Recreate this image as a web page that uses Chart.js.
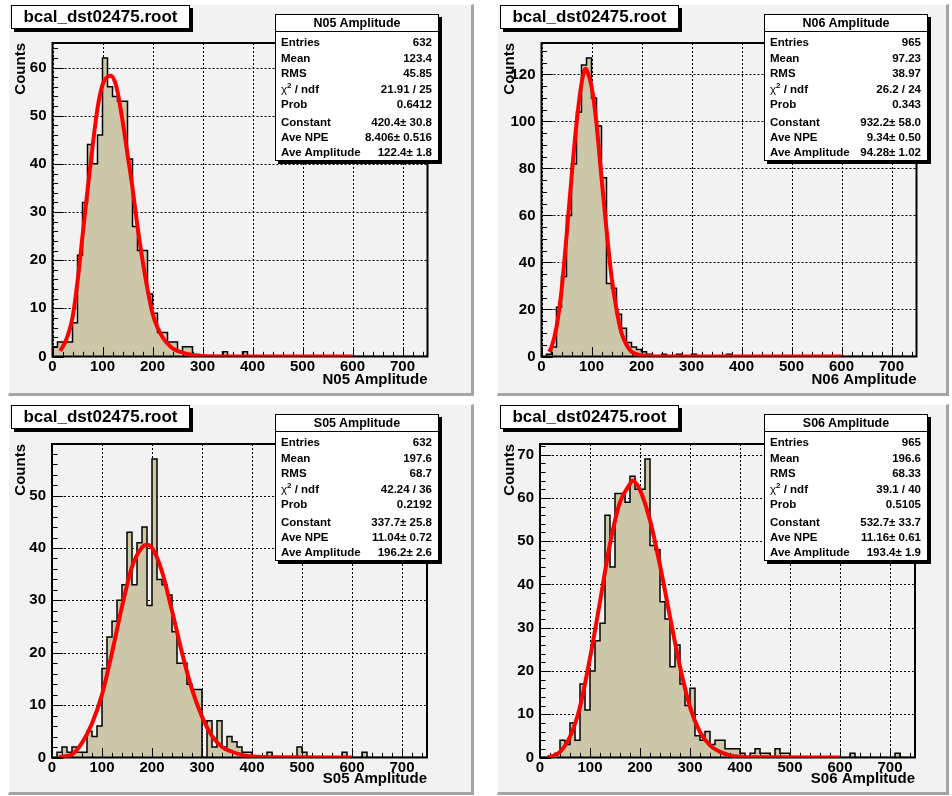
<!DOCTYPE html>
<html><head><meta charset="utf-8">
<script src="https://cdn.jsdelivr.net/npm/chart.js@4.4.1/dist/chart.umd.min.js"></script>
<style>
html,body{margin:0;padding:0;}
body{width:952px;height:796px;position:relative;overflow:hidden;background:#ffffff;font-family:"Liberation Sans",Arial,Helvetica,sans-serif;}
.pad{position:absolute;background:#f2f2f2;box-sizing:border-box;border-right:3px solid #a4a4a4;border-bottom:3px solid #a4a4a4;border-left:1px solid #ffffff;border-top:1px solid #ffffff;}
.cv{position:absolute;}
.tbox{position:absolute;background:#fff;border:1px solid #000;box-shadow:3px 3px 0 #000;box-sizing:border-box;font-weight:bold;font-size:17px;line-height:22px;text-align:center;color:#000;white-space:nowrap;}
.stats{position:absolute;background:#fff;border:1px solid #000;box-shadow:3px 3px 0 #000;box-sizing:border-box;font-weight:bold;color:#000;white-space:nowrap;}
.stats .hdr{position:absolute;left:0;right:0;top:0;height:16px;line-height:16px;text-align:center;font-size:12.5px;border-bottom:1px solid #000;}
.stats .row{position:absolute;left:5px;right:6px;font-size:11.5px;height:14px;line-height:14px;}
.stats .row .v{position:absolute;right:0;top:0;}
.stats sup{font-size:8px;vertical-align:5px;line-height:0;}
.stats .chi{font-weight:normal;}
</style></head><body>
<script>
// ---------------- data ----------------
const FILE_NAME = "bcal_dst02475.root";
const HIST_NAMES = ["N05 Amplitude", "N06 Amplitude", "S05 Amplitude", "S06 Amplitude"];
const BIN_EDGES = [0,10,20,30,40,50,60,70,80,90,100,110,120,130,140,150,160,170,180,190,200,210,220,230,240,250,260,270,280,290,300,310,320,330,340,350,360,370,380,390,400,410,420,430,440,450,460,470,480,490,500,510,520,530,540,550,560,570,580,590,600,610,620,630,640,650,660,670,680,690,700,710,720,730,740,750];
const X_TICKS = [0,100,200,300,400,500,600,700];

const N05_COUNTS = [2,3,3,3,7,21,32,44,40,46, 62,56,54,53,53,41,27,22,22,13, 9,5,5,3,3,1,2,2,0,0, 0,0,0,0,1,0,0,0,1,0, 0,0,0,0,0,0,0,0,0,0, 0,0,0,0,0,0,0,0,0,0, 0,0,0,0,0,0,0,0,0,0, 0,0,0,0,0];
const N06_COUNTS = [0,1,4,21,34,60,82,104,124,127, 110,98,76,31,29,18,12,6,4,3, 2,1,0,0,1,0,0,1,0,0, 1,0,0,0,0,0,0,1,0,0, 0,0,0,0,0,0,0,0,0,0, 0,0,0,0,0,0,0,0,0,0, 0,0,0,0,0,0,0,0,0,0, 0,0,0,0,0];
const S05_COUNTS = [0,1,2,1,2,1,1,5,4,6, 17,23,26,30,33,43,33,41,44,29, 57,34,33,31,24,18,18,14,13,13, 0,7,2,7,2,4,3,2,1,1, 0,0,0,1,0,0,0,0,0,2, 1,0,0,0,0,0,0,0,1,0, 0,0,1,0,0,0,0,0,0,0, 0,0,0,0,0];
const S06_COUNTS = [0,0,0,1,4,3,8,4,17,11, 20,27,31,56,44,61,61,59,65,62, 62,69,49,48,36,32,21,26,17,12, 16,5,4,6,3,4,4,2,2,2, 1,0,1,2,1,1,0,2,1,1, 0,0,0,0,0,0,0,0,0,0, 0,0,1,0,0,0,0,0,0,0, 0,1,0,0,0];

const N05_FIT_X = [15,20,30,40,50,60,70,80,90,100,110,117,125,130,140,150,160,170,180,190,200,210,220,230,240,260,280,300,350,400,600];
const N05_FIT_Y = [1.2,1.9,4.2,8.0,15.5,25,34.5,43.5,51.5,56.4,58.1,58.3,57,55,49,42,35,27,20,14,9,6,4,2.7,1.7,0.8,0.3,0.1,0.01,0,0];
const N06_FIT_X = [15,20,30,40,50,60,70,80,88,90,100,110,120,130,140,150,160,170,180,200,220,250,600];
const N06_FIT_Y = [2,4,12.5,28,51,76,99,116,122.4,122,115,99,76,54,34,20,10,5,2,0.5,0.1,0,0];
const S05_FIT_X = [15,40,60,80,100,120,140,160,180,190,200,220,240,260,280,300,320,340,360,380,400,450,600];
const S05_FIT_Y = [0.1,0.6,2.8,6.5,12,20,28.8,36.4,40.1,40.6,40,35.5,28,20,13,7.8,4.1,2,1.1,0.5,0.2,0.03,0];
const S06_FIT_X = [15,20,40,60,80,100,120,140,160,180,185,200,220,240,260,280,300,320,340,360,380,400,450,600];
const S06_FIT_Y = [0.1,0.15,1.3,4.8,11.7,23,36,49.4,59,63.2,64,61.8,54.8,44.4,32.5,21,11.7,5.9,2.8,1.3,0.5,0.2,0.05,0];

const Y_MAX = [65.1, 133.35, 59.85, 72.45];
const N05_Y_TICKS = [0,10,20,30,40,50,60];
const N06_Y_TICKS = [0,20,40,60,80,100,120];
const S05_Y_TICKS = [0,10,20,30,40,50];
const S06_Y_TICKS = [0,10,20,30,40,50,60,70];
const Y_MINOR = [2, 5, 2, 2];

const STAT_LABELS = ["Entries","Mean","RMS","chi2 / ndf","Prob","Constant","Ave NPE","Ave Amplitude"];
const N05_STATS = ["632","123.4","45.85","21.91 / 25","0.6412","420.4\u00b1 30.8","8.406\u00b1 0.516","122.4\u00b1 1.8"];
const N06_STATS = ["965","97.23","38.97","26.2 / 24","0.343","932.2\u00b1 58.0","9.34\u00b1 0.50","94.28\u00b1 1.02"];
const S05_STATS = ["632","197.6","68.7","42.24 / 36","0.2192","337.7\u00b1 25.8","11.04\u00b1 0.72","196.2\u00b1 2.6"];
const S06_STATS = ["965","196.6","68.33","39.1 / 40","0.5105","532.7\u00b1 33.7","11.16\u00b1 0.61","193.4\u00b1 1.9"];

const COUNTS = [N05_COUNTS, N06_COUNTS, S05_COUNTS, S06_COUNTS];
const FITS = [[N05_FIT_X,N05_FIT_Y],[N06_FIT_X,N06_FIT_Y],[S05_FIT_X,S05_FIT_Y],[S06_FIT_X,S06_FIT_Y]];
const Y_TICKS = [N05_Y_TICKS, N06_Y_TICKS, S05_Y_TICKS, S06_Y_TICKS];
const STATS = [N05_STATS, N06_STATS, S05_STATS, S06_STATS];

// ---------------- layout ----------------
const PADS = [
  {x:8,  y:4,   w:466, h:392},
  {x:497,y:4,   w:452, h:392},
  {x:8,  y:404, w:466, h:391},
  {x:497,y:404, w:452, h:391}
];
const FRAMES = [
  {l:52.5, t:43,  r:427.5, b:356.5},
  {l:541.5,t:43,  r:916.5, b:356.5},
  {l:52,   t:444, r:427,   b:757.5},
  {l:540,  t:444, r:915,   b:757.5}
];
const OFFS = [{dx:0,dy:0},{dx:489,dy:0},{dx:0,dy:400},{dx:489,dy:400}];
const FONT = "'Liberation Sans', Arial, Helvetica, sans-serif";
Chart.defaults.font.family = FONT;

const rootAxes = {
  id: 'rootAxes',
  beforeDatasetsDraw(chart, args, opts) {
    const {ctx, chartArea: ca, scales: {x, y}} = chart;
    ctx.save();
    ctx.beginPath(); ctx.rect(ca.left, ca.top, ca.right - ca.left, ca.bottom - ca.top); ctx.clip();
    ctx.strokeStyle = '#000'; ctx.lineWidth = 1; ctx.setLineDash([2, 2]);
    X_TICKS.forEach(v => {
      const px = Math.round(x.getPixelForValue(v)) + 0.5;
      ctx.beginPath(); ctx.moveTo(px, ca.top); ctx.lineTo(px, ca.bottom); ctx.stroke();
    });
    opts.yTicks.forEach(v => {
      const py = Math.round(y.getPixelForValue(v)) + 0.5;
      ctx.beginPath(); ctx.moveTo(ca.left, py); ctx.lineTo(ca.right, py); ctx.stroke();
    });
    ctx.restore();
  },
  afterDatasetDraw(chart, args, opts) {
    if (args.index !== 1) return;
    const {ctx, chartArea: ca, scales: {x, y}} = chart;
    ctx.save();
    ctx.strokeStyle = '#000'; ctx.lineWidth = 1; ctx.setLineDash([]);
    for (let v = 0; v <= 750 + 1e-6; v += 20) {
      const px = Math.round(x.getPixelForValue(v)) + 0.5;
      const len = (v % 100 === 0) ? 9.4 : 4.7;
      ctx.beginPath(); ctx.moveTo(px, ca.bottom); ctx.lineTo(px, ca.bottom - len); ctx.stroke();
    }
    const major = opts.yTicks[1] - opts.yTicks[0];
    for (let v = 0; v <= opts.ymax + 1e-6; v += opts.yMinor) {
      const py = Math.round(y.getPixelForValue(v)) + 0.5;
      const isMaj = Math.abs(v / major - Math.round(v / major)) < 1e-6;
      const len = isMaj ? 11.3 : 5.6;
      ctx.beginPath(); ctx.moveTo(ca.left, py); ctx.lineTo(ca.left + len, py); ctx.stroke();
    }
    ctx.lineWidth = 2;
    ctx.strokeRect(ca.left, ca.top, ca.right - ca.left, ca.bottom - ca.top);
    ctx.restore();
  }
};

function el(tag, cls, parent) {
  const e = document.createElement(tag);
  if (cls) e.className = cls;
  (parent || document.body).appendChild(e);
  return e;
}

for (let i = 0; i < 4; i++) {
  const P = PADS[i], F = FRAMES[i], O = OFFS[i];
  const pad = el('div', 'pad');
  Object.assign(pad.style, {left: P.x + 'px', top: P.y + 'px', width: P.w + 'px', height: P.h + 'px'});

  const cw = P.w - 3, ch = P.h - 3;
  const cv = el('canvas', 'cv');
  cv.width = cw; cv.height = ch;
  Object.assign(cv.style, {left: P.x + 'px', top: P.y + 'px', width: cw + 'px', height: ch + 'px'});

  const counts = COUNTS[i];
  const histData = BIN_EDGES.map((e, k) => ({x: e, y: counts[Math.min(k, counts.length - 1)]}));
  const fitData = FITS[i][0].map((xv, k) => ({x: xv, y: FITS[i][1][k]}));
  const yTicks = Y_TICKS[i];
  const leftW = F.l - P.x, bottomH = (P.y + ch) - F.b;

  new Chart(cv.getContext('2d'), {
    type: 'line',
    data: {
      datasets: [
        {data: fitData, borderColor: '#ff0000', borderWidth: 4, pointRadius: 0, fill: false,
         cubicInterpolationMode: 'monotone', tension: 0.4},
        {data: histData, borderColor: '#000000', borderWidth: 1.5, pointRadius: 0, stepped: true,
         fill: 'origin', backgroundColor: '#cdc7a9'}
      ]
    },
    options: {
      responsive: false, animation: false, devicePixelRatio: 1,
      layout: {padding: {left: 0, top: F.t - P.y, right: (P.x + cw) - F.r, bottom: 0}},
      plugins: {legend: {display: false}, tooltip: {enabled: false},
        rootAxes: {yTicks: yTicks, yMinor: Y_MINOR[i], ymax: Y_MAX[i]}},
      scales: {
        x: {type: 'linear', min: 0, max: 750,
          afterBuildTicks: s => { s.ticks = X_TICKS.map(v => ({value: v})); },
          afterFit: s => { s.height = bottomH; },
          grid: {display: false, drawTicks: false}, border: {display: false},
          ticks: {color: '#000', font: {size: 15, weight: 'bold'}, padding: 1, maxRotation: 0, autoSkip: false},
          title: {display: true, text: HIST_NAMES[i], align: 'end', color: '#000',
            font: {size: 15, weight: 'bold'}, padding: {top: 0, bottom: 4}}
        },
        y: {type: 'linear', min: 0, max: Y_MAX[i],
          afterBuildTicks: s => { s.ticks = yTicks.map(v => ({value: v})); },
          afterFit: s => { s.width = leftW; },
          grid: {display: false, drawTicks: false}, border: {display: false},
          ticks: {color: '#000', font: {size: 15, weight: 'bold'}, padding: 6, autoSkip: false},
          title: {display: true, text: 'Counts', align: 'end', color: '#000',
            font: {size: 15, weight: 'bold'}, padding: {top: 4, bottom: 0}}
        }
      }
    },
    plugins: [rootAxes]
  });

  // title box
  const tb = el('div', 'tbox');
  Object.assign(tb.style, {left: (11 + O.dx) + 'px', top: (5 + O.dy) + 'px', width: '179px', height: '24px'});
  tb.textContent = FILE_NAME;

  // stats box
  const sb = el('div', 'stats');
  const sTop = 14 + O.dy;
  Object.assign(sb.style, {left: (275 + O.dx) + 'px', top: sTop + 'px', width: '164px', height: '147px'});
  const hdr = el('div', 'hdr', sb); hdr.textContent = HIST_NAMES[i];
  const rowCenters = [42.3, 57.7, 72.7, 89, 104.3, 121.7, 137, 151.7];
  STAT_LABELS.forEach((lab, k) => {
    const r = el('div', 'row', sb);
    r.style.top = (rowCenters[k] - 14 - 7 - 1) + 'px';
    const l = el('span', '', r);
    if (k === 3) l.innerHTML = '<span class="chi">\u03c7</span><sup>2</sup> / ndf';
    else l.textContent = lab;
    const v = el('span', 'v', r); v.textContent = STATS[i][k];
  });
}
</script>
</body></html>
